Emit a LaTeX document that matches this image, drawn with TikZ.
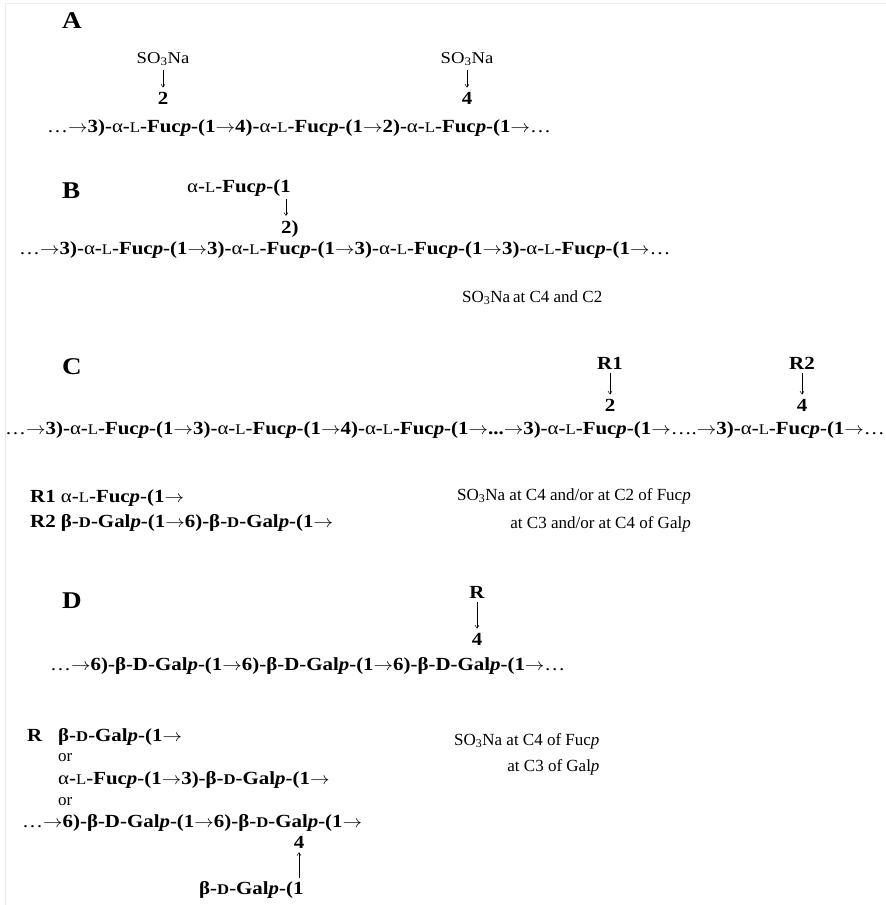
\documentclass[tikz,border=0pt]{standalone}
\usepackage{fontspec}
\setmainfont{Liberation Serif}[FakeStretch=1.13]
\newfontfamily\notefont{Liberation Serif}
\usetikzlibrary{arrows.meta}
% sugar residues
\newcommand\smcap[1]{\scalebox{0.8}{#1}}
\newcommand\rarr{\scalebox{1.13}[1]{\ensuremath{\rightarrow}}}
\newcommand\fucp{{\mdseries α}-{\mdseries\smcap{L}}-Fuc\textit{p}}
\newcommand\galp{β-\smcap{D}-Gal\textit{p}}
\newcommand\galpD{β-D-Gal\textit{p}}
\newcommand\sulf{SO\textsubscript{3}Na}
\newcommand\elp{{\mdseries…}}
\begin{document}
\begin{tikzpicture}[x=1pt,y=-1pt,
  chain/.style={anchor=base west, inner sep=0pt, font=\fontsize{18.5}{22}\selectfont\bfseries},
  panel/.style={anchor=base west, inner sep=0pt, font=\fontsize{24}{28}\selectfont\bfseries},
  note/.style={anchor=base west, inner sep=0pt, font=\notefont\fontsize{17}{20}\selectfont},
  subst/.style={anchor=base, inner sep=1pt, font=\fontsize{16.5}{20}\selectfont},
  posnum/.style={anchor=base, inner sep=1pt, font=\fontsize{18.5}{22}\selectfont\bfseries},
  link/.style={-{Straight Barb[length=3pt,width=4pt]}, line width=0.5pt, shorten >=3pt, shorten <=3pt}]
\useasboundingbox (0,0) rectangle (886,905);
\fill[white] (0,0) rectangle (886,905);
\draw[black!7, line width=1pt] (5,905) -- (5,3) -- (886,3);

% ---- A ----
\node[panel] (pA) at (62,28) {A};
\node[subst] (sA1) at (163,63) {\sulf};
\node[posnum] (nA1) at (163,104) {2};
\node[subst] (sA2) at (467,63) {\sulf};
\node[posnum] (nA2) at (467,104) {4};
\node[chain] (cA) at (47,132) {\elp\rarr3)-\fucp-(1\rarr4)-\fucp-(1\rarr2)-\fucp-(1\rarr\elp};
\draw[link] (sA1) -- (nA1);
\draw[link] (sA2) -- (nA2);

% ---- B ----
\node[panel] (pB) at (62,198) {B};
\node[chain] (bB) at (187,192) {\fucp-(1};
\coordinate (bBa) at ([xshift=-5pt]bB.south east);
\node[posnum, anchor=base west] (nB) at ([xshift=-6pt]bBa |- 0,233) {2)};
\draw[link] (bBa) -- (nB.north -| bBa);
\node[chain] (cB) at (19,254) {\elp\rarr3)-\fucp-(1\rarr3)-\fucp-(1\rarr3)-\fucp-(1\rarr3)-\fucp-(1\rarr\elp};
\node[note] (tB) at (462,302) {\sulf\,at C4 and C2};

% ---- C ----
\node[panel] (pC) at (62,374) {C};
\node[posnum] (rC1) at (610,369) {R1};
\node[posnum] (nC1) at (610,411) {2};
\node[posnum] (rC2) at (802,369) {R2};
\node[posnum] (nC2) at (802,411) {4};
\draw[link] (rC1) -- (nC1);
\draw[link] (rC2) -- (nC2);
\node[chain] (cC) at (5,434) {\elp\rarr3)-\fucp-(1\rarr3)-\fucp-(1\rarr4)-\fucp-(1\rarr...\rarr3)-\fucp-(1\rarr{\mdseries….}\rarr3)-\fucp-(1\rarr\elp};
\node[chain] (lR1) at (30,502) {R1 \fucp-(1\rarr};
\node[chain] (lR2) at (30,527) {R2 \galp-(1\rarr6)-\galp-(1\rarr};
\node[note] (tC1) at (457,500) {\sulf{} at C4 and/or at C2 of Fuc\textit{p}};
\node[note, anchor=base east] (tC2) at (tC1.base east |- 0,528) {at C3 and/or at C4 of Gal\textit{p}};

% ---- D ----
\node[panel] (pD) at (62,608) {D};
\node[posnum] (rD) at (477,598) {R};
\node[posnum] (nD) at (477,645) {4};
\draw[link] (rD) -- (nD);
\node[chain] (cD) at (50,670) {\elp\rarr6)-\galpD-(1\rarr6)-\galpD-(1\rarr6)-\galpD-(1\rarr\elp};
\node[chain] (lR) at (27,741) {R};
\node[chain] (lRa) at (58,741) {\galp-(1\rarr};
\node[note] (or1) at (58,761) {or};
\node[chain] (lRb) at (58,784) {\fucp-(1\rarr3)-\galp-(1\rarr};
\node[note] (or2) at (58,805) {or};
\node[chain] (lRc) at (22,827) {\elp\rarr6)-\galpD-(1\rarr6)-\galp-(1\rarr};
\node[posnum] (nR) at (299,848) {4};
\node[chain] (lRd) at (199,894) {\galp-(1};
\coordinate (lRdt) at (lRd.north -| nR);
\draw[link] (lRdt) -- (nR);
\node[note] (tD1) at (454,745) {\sulf{} at C4 of Fuc\textit{p}};
\node[note, anchor=base east] (tD2) at (tD1.base east |- 0,771) {at C3 of Gal\textit{p}};
\end{tikzpicture}
\end{document}
